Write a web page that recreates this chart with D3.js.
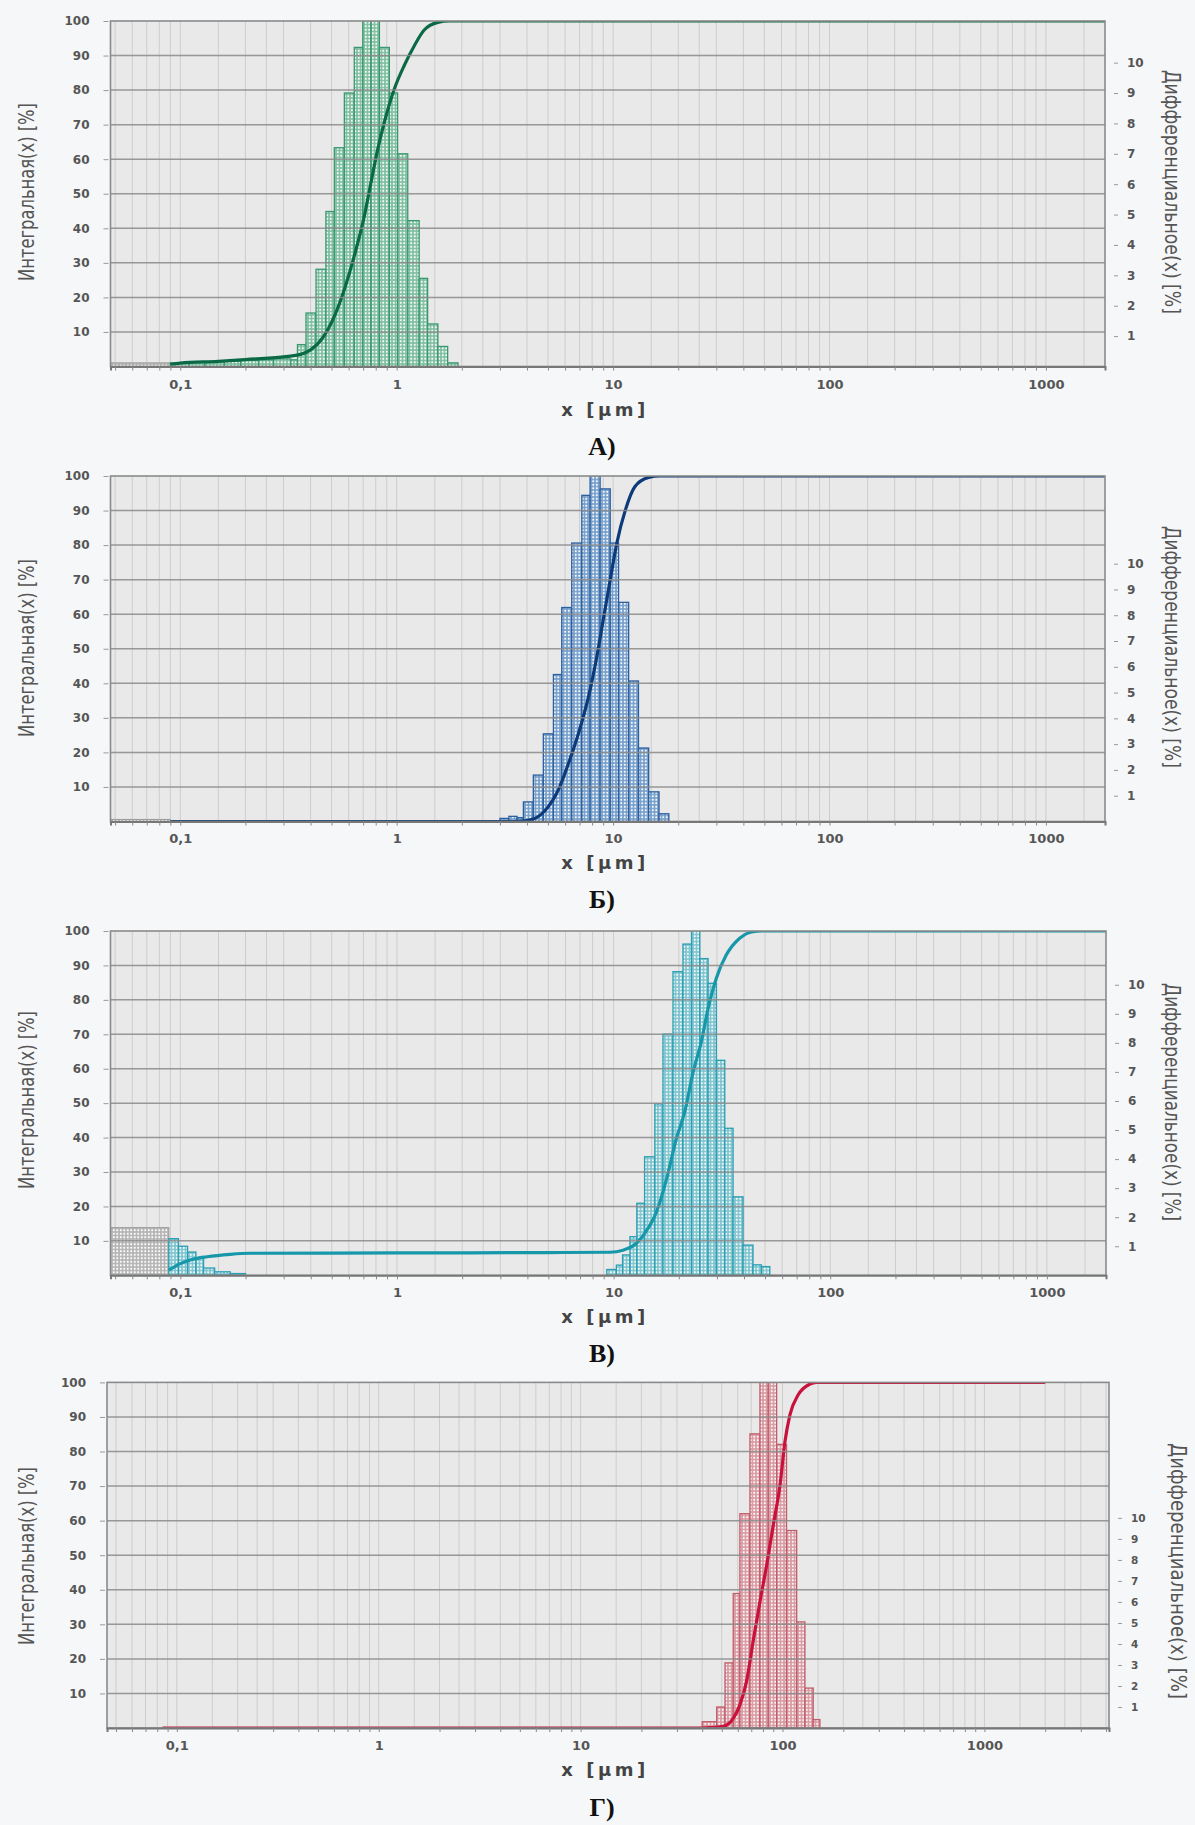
<!DOCTYPE html>
<html>
<head>
<meta charset="utf-8">
<script src="https://cdn.jsdelivr.net/npm/d3@7"></script>
<style>
  body { margin: 0; background: #f5f7f8; }
  svg text { font-family: "DejaVu Sans", Verdana, sans-serif; }
</style>
</head>
<body>
<div id="chart"></div>
<script>
// ---------- data ----------
const panelLetters = ["А)", "Б)", "В)", "Г)"];
const xTickValues = [0.1, 1, 10, 100, 1000];
const xTickLabels = ["0,1", "1", "10", "100", "1000"];
const leftTickValues = [10, 20, 30, 40, 50, 60, 70, 80, 90, 100];
const rightTickValues = [1, 2, 3, 4, 5, 6, 7, 8, 9, 10];
const rightMax = [11.37, 13.4, 11.85, 16.45];
const xDomains = [[0.0476, 1875], [0.0476, 1875], [0.0476, 1875], [0.0451, 4140]];

// А) differential (right axis, %)
const greyEdgesA = [0.0476, 0.09];
const greyValuesA = [0.12];
const binEdgesA = [0.09, 0.11, 0.13, 0.16, 0.19, 0.23, 0.27, 0.324, 0.348, 0.381, 0.424, 0.471, 0.515,
  0.573, 0.637, 0.697, 0.761, 0.832, 0.925, 1.01, 1.125, 1.27, 1.39, 1.55, 1.72, 1.92];
const binValuesA = [0.12, 0.14, 0.16, 0.18, 0.2, 0.22, 0.25, 0.22, 0.72, 1.76, 3.2, 5.1, 7.2, 9.0,
  10.5, 11.6, 11.6, 10.5, 9.0, 7.0, 4.8, 2.9, 1.4, 0.66, 0.12];
// А) cumulative (left axis, %)
const cumSizesA = [0.09, 0.1, 0.15, 0.2, 0.3, 0.36, 0.4, 0.46, 0.515, 0.573, 0.637, 0.709, 0.761,
  0.818, 0.877, 0.976, 1.085, 1.21, 1.34, 1.55, 1.75, 1875];
const cumValuesA = [0.6, 1.0, 1.5, 2.0, 2.8, 3.5, 4.8, 8.7, 14.5, 22.3, 32, 43.6, 53.3,
  63, 70.7, 80.4, 87.2, 93, 97.4, 99.6, 100, 100];

// Б)
const greyEdgesB = [0.0476, 0.09];
const greyValuesB = [0.08];
const binEdgesB = [3.0, 3.3, 3.6, 3.85, 4.28, 4.76, 5.30, 5.79, 6.44, 7.17, 7.83, 8.71, 9.70,
  10.6, 11.8, 13.1, 14.6, 16.3, 18.1];
const binValuesB = [0.12, 0.2, 0.15, 0.76, 1.8, 3.4, 5.7, 8.3, 10.8, 12.65, 13.6, 12.9, 10.8,
  8.5, 5.45, 2.85, 1.15, 0.3];
const cumSizesB = [0.09, 3.5, 3.78, 4.35, 5.02, 5.58, 6.22, 6.92, 7.69, 8.41, 9.0, 9.7, 10.4,
  11.4, 12.6, 14.6, 16.5, 1875];
const cumValuesB = [0, 0, 0.1, 0.9, 4.3, 9.1, 16.8, 25.5, 36, 47.7, 58.3, 70, 80.5,
  90.2, 96.9, 99.6, 100, 100];

// В)
const greyEdgesC = [0.0476, 0.0885];
const greyValuesC = [1.64];
const binEdgesC = [0.0885, 0.098, 0.108, 0.118, 0.128, 0.144, 0.17, 0.2, 9.3, 10.3, 11.0, 11.9,
  12.8, 13.9, 15.5, 16.9, 18.8, 20.9, 22.9, 25.0, 27.3, 29.8, 32.6, 35.6, 39.6, 44.0, 48.1, 52.6];
const binValuesC = [1.26, 1.0, 0.8, 0.6, 0.25, 0.12, 0.06, 0, 0.2, 0.35, 0.7, 1.33,
  2.48, 4.08, 5.9, 8.3, 10.45, 11.4, 12.0, 10.9, 10.05, 7.4, 5.06, 2.7, 1.04, 0.36, 0.3];
const cumSizesC = [0.0885, 0.1, 0.113, 0.133, 0.17, 0.21, 1, 5, 9.6, 11.05, 12.75, 14.1, 15.8,
  17.6, 19.5, 21.3, 23.3, 25.4, 27.3, 29.8, 33.1, 38.2, 44.0, 48, 1875];
const cumValuesC = [1.5, 3.4, 4.6, 5.4, 6.1, 6.4, 6.5, 6.6, 6.7, 7.3, 9.3, 12.7, 18.5,
  28.2, 39.8, 47.5, 59.1, 67.8, 77.5, 86.3, 93, 97.9, 99.8, 100, 100];

// Г)
const greyEdgesD = [];
const greyValuesD = [];
const binEdgesD = [40, 47.2, 51.9, 57.0, 61.5, 69.0, 77.3, 85.0, 93.5, 104.7, 117.5, 129.1, 141.9, 153.2];
const binValuesD = [0.3, 1.0, 3.1, 6.4, 10.2, 14.0, 16.8, 16.8, 13.5, 9.4, 5.05, 1.9, 0.4];
const cumSizesD = [0.085, 40, 43.6, 50.9, 57, 61.5, 66.3, 71.5, 77.3, 83.5, 90, 97.2, 102.8,
  108.8, 119.6, 136.5, 147, 2000];
const cumValuesD = [0, 0, 0.1, 0.5, 2.8, 6.7, 13.4, 25, 36.5, 47.2, 58.7, 70.3, 82.8,
  90.6, 96.4, 99.5, 100, 100];

// ---------- layout and styles ----------
const layout = [
  { left: 110.5, right: 1105, top: 21, bottom: 366.5, tickY: 384, xTitleY: 410, letterY: 446,
    leftTitleY: 192, rightTitleY: 192, rightTitleX: 1173, rightFont: 12, rightTitleLen: 244 },
  { left: 110.5, right: 1105, top: 476, bottom: 821.5, tickY: 838, xTitleY: 863, letterY: 899,
    leftTitleY: 648, rightTitleY: 647, rightTitleX: 1173, rightFont: 12, rightTitleLen: 242 },
  { left: 110.5, right: 1106, top: 931, bottom: 1275.3, tickY: 1292, xTitleY: 1317, letterY: 1353,
    leftTitleY: 1100, rightTitleY: 1102, rightTitleX: 1173, rightFont: 12, rightTitleLen: 238 },
  { left: 107, right: 1109, top: 1382.4, bottom: 1728, tickY: 1745, xTitleY: 1770, letterY: 1807,
    leftTitleY: 1556, rightTitleY: 1571, rightTitleX: 1179, rightFont: 10.5, rightTitleLen: 256 }
];
const styles = [
  { curve: "#0b6a46", stroke: "#3a9870", fill: "#74ba98" },
  { curve: "#0d3b7a", stroke: "#2c5f9e", fill: "#6a97c8" },
  { curve: "#1697aa", stroke: "#2a9fb3", fill: "#74c0cd" },
  { curve: "#c8123c", stroke: "#be5e6a", fill: "#d8929b" }
];

const series = [
  { greyEdges: greyEdgesA, greyValues: greyValuesA, edges: binEdgesA, values: binValuesA, cumX: cumSizesA, cumY: cumValuesA },
  { greyEdges: greyEdgesB, greyValues: greyValuesB, edges: binEdgesB, values: binValuesB, cumX: cumSizesB, cumY: cumValuesB },
  { greyEdges: greyEdgesC, greyValues: greyValuesC, edges: binEdgesC, values: binValuesC, cumX: cumSizesC, cumY: cumValuesC },
  { greyEdges: greyEdgesD, greyValues: greyValuesD, edges: binEdgesD, values: binValuesD, cumX: cumSizesD, cumY: cumValuesD }
];

const svg = d3.select("#chart").append("svg")
  .attr("width", 1195)
  .attr("height", 1825);
const defs = svg.append("defs");

// stipple pattern for the histogram bars
function makePattern(id, base) {
  const p = defs.append("pattern")
    .attr("id", id)
    .attr("width", 3.5).attr("height", 3.5)
    .attr("patternUnits", "userSpaceOnUse");
  p.append("rect").attr("width", 3.5).attr("height", 3.5).attr("fill", base);
  p.append("circle").attr("cx", 1.75).attr("cy", 1.75).attr("r", 1.05).attr("fill", "#ffffff");
}
makePattern("dots-grey", "#b4b4b4");
styles.forEach((s, i) => makePattern("dots-" + i, s.fill));

function toBins(edges, values) {
  return values.map((v, j) => ({ x0: edges[j], x1: edges[j + 1], v: v })).filter(d => d.v > 0);
}

function tickLabel(d) {
  const k = xTickValues.findIndex(v => Math.abs(v - d) / v < 1e-6);
  return k >= 0 ? xTickLabels[k] : "";
}

layout.forEach((p, i) => {
  const st = styles[i];
  const s = series[i];
  const g = svg.append("g");

  const x = d3.scaleLog().domain(xDomains[i]).range([p.left, p.right]);
  const yL = d3.scaleLinear().domain([0, 100]).range([p.bottom, p.top]);
  const yR = d3.scaleLinear().domain([0, rightMax[i]]).range([p.bottom, p.top]);

  defs.append("clipPath").attr("id", "clip" + i)
    .append("rect")
    .attr("x", p.left).attr("y", p.top)
    .attr("width", p.right - p.left).attr("height", p.bottom - p.top);

  // plot background
  g.append("rect")
    .attr("x", p.left).attr("y", p.top)
    .attr("width", p.right - p.left).attr("height", p.bottom - p.top)
    .attr("fill", "#e9e9e9");

  // vertical log grid
  const minor = x.ticks();
  const lead = d => Math.round(d / Math.pow(10, Math.floor(Math.log10(d) + 1e-9)));
  const extra = minor.filter(d => lead(d) === 1 || lead(d) === 2)
    .map(d => d * (lead(d) === 1 ? 1.5 : 1.25));
  g.append("g").selectAll("line")
    .data(minor.concat(extra).filter(d => d > xDomains[i][0] && d < xDomains[i][1]))
    .join("line")
    .attr("x1", d => x(d)).attr("x2", d => x(d))
    .attr("y1", p.top).attr("y2", p.bottom)
    .attr("stroke", "#cdcdcd")
    .attr("stroke-width", 1);

  const plot = g.append("g").attr("clip-path", "url(#clip" + i + ")");

  // fines bars (grey)
  plot.append("g").selectAll("rect")
    .data(toBins(s.greyEdges, s.greyValues))
    .join("rect")
    .attr("x", d => x(d.x0))
    .attr("y", d => yR(d.v))
    .attr("width", d => x(d.x1) - x(d.x0))
    .attr("height", d => yR(0) - yR(d.v))
    .attr("fill", "url(#dots-grey)")
    .attr("stroke", "#9a9a9a")
    .attr("stroke-width", 1);

  // differential bars
  plot.append("g").selectAll("rect")
    .data(toBins(s.edges, s.values))
    .join("rect")
    .attr("x", d => x(d.x0))
    .attr("y", d => yR(d.v))
    .attr("width", d => x(d.x1) - x(d.x0))
    .attr("height", d => yR(0) - yR(d.v))
    .attr("fill", "url(#dots-" + i + ")")
    .attr("fill-opacity", 0.9)
    .attr("stroke", st.stroke)
    .attr("stroke-width", 1.3);

  // horizontal grid (drawn over the bars, as in the original)
  g.append("g").selectAll("line")
    .data(leftTickValues.slice(0, -1))
    .join("line")
    .attr("x1", p.left).attr("x2", p.right)
    .attr("y1", d => yL(d)).attr("y2", d => yL(d))
    .attr("stroke", "#8a8a8a")
    .attr("stroke-opacity", 0.85)
    .attr("stroke-width", 1.5);

  // cumulative curve
  const line = d3.line()
    .x(d => x(d[0]))
    .y(d => yL(d[1]))
    .curve(d3.curveMonotoneX);
  plot.append("path")
    .datum(d3.zip(s.cumX, s.cumY))
    .attr("d", line)
    .attr("fill", "none")
    .attr("stroke", st.curve)
    .attr("stroke-width", 3.2)
    .attr("stroke-linejoin", "round");

  // frame
  g.append("rect")
    .attr("x", p.left).attr("y", p.top)
    .attr("width", p.right - p.left).attr("height", p.bottom - p.top)
    .attr("fill", "none")
    .attr("stroke", "#8a8a8a")
    .attr("stroke-width", 1.6);

  // bottom axis
  const xAxis = g.append("g")
    .attr("transform", "translate(0," + p.bottom + ")")
    .call(d3.axisBottom(x).tickValues(minor).tickFormat(tickLabel).tickSize(4).tickPadding(7));
  xAxis.select(".domain").attr("stroke", "#777").attr("stroke-width", 2);
  xAxis.selectAll(".tick line").attr("stroke", "#888");
  xAxis.selectAll(".tick text")
    .attr("y", p.tickY - p.bottom).attr("dy", "0.35em")
    .attr("fill", "#555").attr("font-size", 13).attr("font-weight", "bold");

  // left axis
  const lAxis = g.append("g")
    .attr("transform", "translate(" + (p.left - 2) + ",0)")
    .call(d3.axisLeft(yL).tickValues(leftTickValues).tickSize(5).tickPadding(14));
  lAxis.select(".domain").remove();
  lAxis.selectAll(".tick line").attr("stroke", "#999");
  lAxis.selectAll(".tick text")
    .attr("fill", "#555").attr("font-size", 12).attr("font-weight", "bold");

  // right axis
  const rAxis = g.append("g")
    .attr("transform", "translate(" + (p.right + 9) + ",0)")
    .call(d3.axisRight(yR).tickValues(rightTickValues).tickSize(4).tickPadding(9));
  rAxis.select(".domain").remove();
  rAxis.selectAll(".tick line").attr("stroke", "#999");
  rAxis.selectAll(".tick text")
    .attr("fill", "#555").attr("font-size", p.rightFont).attr("font-weight", "bold");

  // axis titles
  const narrow = '"Liberation Sans Narrow", "Arial Narrow", "DejaVu Sans Condensed", sans-serif';
  g.append("text")
    .attr("transform", "translate(26," + p.leftTitleY + ") rotate(-90)")
    .attr("text-anchor", "middle").attr("dy", "0.35em")
    .style("font-family", narrow)
    .attr("font-size", 22).attr("fill", "#555")
    .attr("textLength", 178).attr("lengthAdjust", "spacingAndGlyphs")
    .text("Интегральная(x) [%]");
  g.append("text")
    .attr("transform", "translate(" + p.rightTitleX + "," + p.rightTitleY + ") rotate(90)")
    .attr("text-anchor", "middle").attr("dy", "0.35em")
    .style("font-family", narrow)
    .attr("font-size", 22).attr("fill", "#555")
    .attr("textLength", p.rightTitleLen).attr("lengthAdjust", "spacingAndGlyphs")
    .text("Дифференциальное(x) [%]");

  g.append("text")
    .attr("x", 605).attr("y", p.xTitleY).attr("dy", "0.35em")
    .attr("text-anchor", "middle")
    .attr("font-size", 18).attr("font-weight", "bold").attr("fill", "#444")
    .attr("letter-spacing", 3.5)
    .text("x [µm]");

  g.append("text")
    .attr("x", 602).attr("y", p.letterY).attr("dy", "0.35em")
    .attr("text-anchor", "middle")
    .style("font-family", '"Liberation Serif", "Times New Roman", serif')
    .attr("font-size", 26).attr("font-weight", "bold").attr("fill", "#111")
    .text(panelLetters[i]);
});
</script>
</body>
</html>
